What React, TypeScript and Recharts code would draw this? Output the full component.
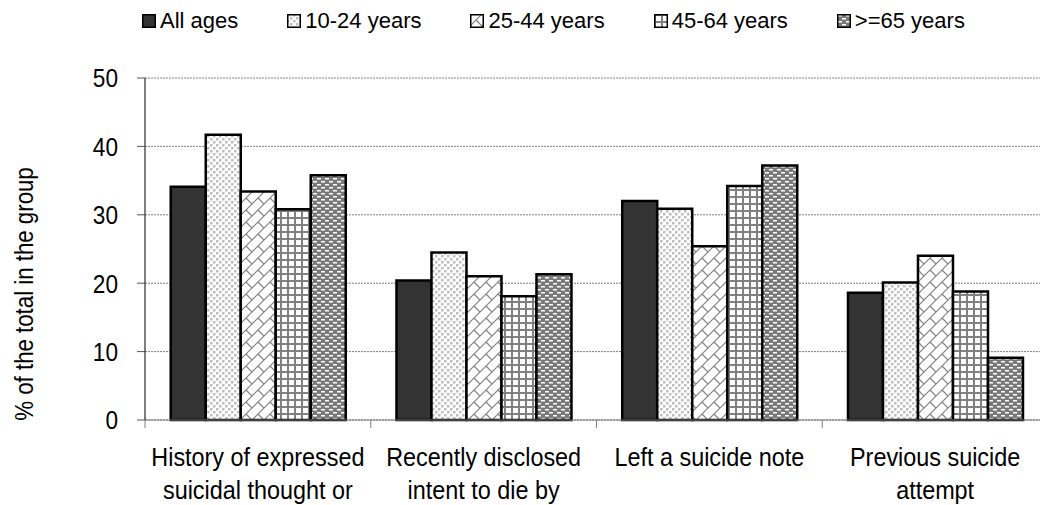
import { Bar, BarChart, CartesianGrid, Legend, XAxis, YAxis } from "recharts";

const categories = [
  "History of expressed\nsuicidal thought or",
  "Recently disclosed\nintent to die by",
  "Left a suicide note",
  "Previous suicide\nattempt",
];

const seriesNames = ["All ages", "10-24 years", "25-44 years", "45-64 years", ">=65 years"];
const seriesKeys = ["all", "y10", "y25", "y45", "y65"];
const seriesFills = ["#333333", "url(#p10)", "url(#p25)", "url(#p45)", "url(#p65)"];

const allAges = [34.1, 20.4, 32.0, 18.6];
const years10to24 = [41.7, 24.5, 30.9, 20.1];
const years25to44 = [33.4, 21.0, 25.4, 24.0];
const years45to64 = [30.8, 18.1, 34.2, 18.8];
const years65plus = [35.8, 21.3, 37.2, 9.1];

const yTicks = [0, 10, 20, 30, 40, 50];

const data = categories.map((category, i) => ({
  category,
  all: allAges[i],
  y10: years10to24[i],
  y25: years25to44[i],
  y45: years45to64[i],
  y65: years65plus[i],
}));

const FONT = '"Liberation Sans", Arial, sans-serif';
const W = 1050;
const H = 505;
const MARGIN = { top: 78, right: 2, bottom: 0, left: 0 };
const Y_AXIS_W = 145;
const BAND = (W - MARGIN.left - MARGIN.right - Y_AXIS_W) / categories.length;

function Patterns() {
  return (
    <svg width={0} height={0} style={{ position: "absolute" }}>
      <defs>
        <pattern id="p10" width={6} height={6} patternUnits="userSpaceOnUse">
          <rect width={6} height={6} fill="#fff" />
          <rect x={0} y={0} width={2.5} height={2.5} fill="#bdbdbd" />
          <rect x={3} y={3} width={2.5} height={2.5} fill="#bdbdbd" />
        </pattern>
        <pattern id="p25" width={12} height={12} patternUnits="userSpaceOnUse">
          <rect width={12} height={12} fill="#fff" />
          <path
            d="M0,12 L12,0 M-1,1 L1,-1 M11,13 L13,11 M6,6 L12,12"
            stroke="#808080"
            strokeWidth={1.2}
            fill="none"
          />
        </pattern>
        <pattern id="p45" width={7} height={7} patternUnits="userSpaceOnUse">
          <rect width={7} height={7} fill="#808080" />
          <rect x={2} y={2} width={5} height={5} fill="#fff" />
        </pattern>
        <pattern id="p65" width={8} height={6} patternUnits="userSpaceOnUse">
          <rect width={8} height={6} fill="#7a7a7a" />
          <rect x={1} y={1} width={4} height={1.5} fill="#fff" />
          <rect x={5} y={4} width={3} height={1.5} fill="#fff" />
          <rect x={0} y={4} width={1} height={1.5} fill="#fff" />
        </pattern>
      </defs>
    </svg>
  );
}

function CategoryTick({ x, y, payload }: any) {
  const lines = String(payload.value).split("\n");
  return (
    <g>
      <line x1={x - BAND / 2} x2={x - BAND / 2} y1={y} y2={y + 8} stroke="#808080" />
      {lines.map((line, i) => (
        <text
          key={i}
          transform={`translate(${x},${y + 46 + i * 33}) scale(0.9,1)`}
          textAnchor="middle"
          fontSize={26}
          fill="#000"
          fontFamily={FONT}
        >
          {line}
        </text>
      ))}
    </g>
  );
}

function ValueTick({ x, y, payload }: any) {
  return (
    <text
      transform={`translate(${x - 19},${y + 9.3}) scale(0.87,1)`}
      textAnchor="end"
      fontSize={26}
      fill="#000"
      fontFamily={FONT}
    >
      {payload.value}
    </text>
  );
}

function YLabel({ viewBox }: any) {
  const cy = viewBox.y + viewBox.height / 2 + 45;
  return (
    <text
      transform={`translate(33,${cy}) rotate(-90) scale(0.89,1)`}
      textAnchor="middle"
      fontSize={25}
      fill="#000"
      fontFamily={FONT}
    >
      % of the total in the group
    </text>
  );
}

function LegendContent() {
  return (
    <div style={{ display: "flex", alignItems: "center", gap: 49, lineHeight: "22px", fontFamily: FONT, fontSize: 22 }}>
      {seriesNames.map((name, i) => (
        <div key={name} style={{ display: "flex", alignItems: "center", gap: 4 }}>
          <svg width={14} height={14} style={{ display: "block" }}>
            <rect x={0.75} y={0.75} width={12.5} height={12.5} fill={seriesFills[i]} stroke="#000" strokeWidth={1.5} />
          </svg>
          <span style={{ whiteSpace: "nowrap", color: "#000" }}>{name}</span>
        </div>
      ))}
    </div>
  );
}

export default function App() {
  return (
    <div style={{ position: "absolute", left: 0, top: 0, width: 1040, height: 505, overflow: "hidden", background: "#fff" }}>
      <Patterns />
      <BarChart
        width={W}
        height={H}
        data={data}
        margin={MARGIN}
        barCategoryGap="11.4%"
        barGap={0}
        style={{ fontFamily: FONT }}
      >
        <CartesianGrid vertical={false} stroke="#808080" strokeDasharray="2 1" />
        <XAxis
          dataKey="category"
          height={85}
          tickLine={false}
          tickSize={0}
          tickMargin={0}
          axisLine={{ stroke: "#808080" }}
          tick={<CategoryTick />}
          interval={0}
        />
        <YAxis
          width={Y_AXIS_W}
          domain={[0, 50]}
          ticks={yTicks}
          tickSize={8}
          tickMargin={0}
          axisLine={{ stroke: "#000" }}
          tickLine={{ stroke: "#555" }}
          tick={<ValueTick />}
          label={<YLabel />}
        />
        <Legend
          verticalAlign="middle"
          content={<LegendContent />}
          wrapperStyle={{ top: 10, left: 142, width: 900, height: 24 }}
        />
        {seriesKeys.map((key, i) => (
          <Bar
            key={key}
            dataKey={key}
            name={seriesNames[i]}
            fill={seriesFills[i]}
            stroke="#000"
            strokeWidth={2.5}
            isAnimationActive={false}
          />
        ))}
      </BarChart>
    </div>
  );
}
